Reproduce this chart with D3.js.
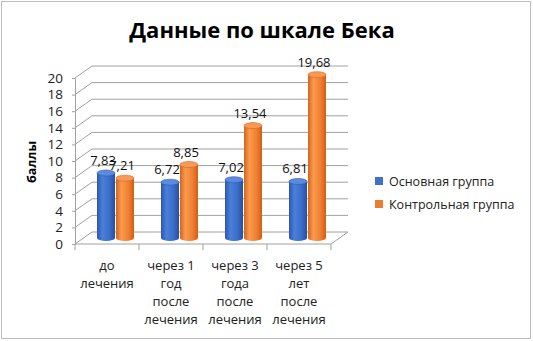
<!DOCTYPE html>
<html>
<head>
<meta charset="utf-8">
<script src="https://cdn.jsdelivr.net/npm/d3@7"></script>
<style>
  body { margin: 0; background: #fff; }
  svg { display: block; font-family: 'Open Sans', sans-serif; }
</style>
</head>
<body>
<svg id="chart" width="533" height="341"></svg>
<script>
// data
const categories = ['до\nлечения', 'через 1\nгод\nпосле\nлечения', 'через 3\nгода\nпосле\nлечения', 'через 5\nлет\nпосле\nлечения'];
const seriesNames = ['Основная группа', 'Контрольная группа'];
const mainGroup = [7.83, 6.72, 7.02, 6.81];
const controlGroup = [7.21, 8.85, 13.54, 19.68];
const yTicks = [0, 2, 4, 6, 8, 10, 12, 14, 16, 18, 20];

const svg = d3.select('#chart');

// outer frame
svg.append('rect')
  .attr('x', 1.5).attr('y', 1.5)
  .attr('width', 529).attr('height', 337)
  .attr('fill', '#fff').attr('stroke', '#bdbdbd');

svg.append('text')
  .attr('x', 262).attr('y', 38)
  .attr('text-anchor', 'middle')
  .attr('font-size', 22).attr('font-weight', 'bold')
  .attr('fill', '#000')
  .text('Данные по шкале Бека');

// 3d depth offset of the back wall
const depth = { dx: 17, dy: -12 };

const x = d3.scaleBand().domain(categories).range([75, 331]);
const y = d3.scaleLinear().domain([0, 20]).range([244, 78]);

const gridColor = '#a0a0a0';
const walls = svg.append('g');

// back wall gridlines and left wall diagonals
yTicks.forEach(t => {
  walls.append('line')
    .attr('x1', 75 + depth.dx).attr('x2', 331 + depth.dx)
    .attr('y1', y(t) + depth.dy).attr('y2', y(t) + depth.dy)
    .attr('stroke', gridColor);
  walls.append('line')
    .attr('x1', 75).attr('y1', y(t))
    .attr('x2', 75 + depth.dx).attr('y2', y(t) + depth.dy)
    .attr('stroke', gridColor);
});

// floor front and right edge
walls.append('line')
  .attr('x1', 75).attr('x2', 331).attr('y1', y(0)).attr('y2', y(0))
  .attr('stroke', gridColor);
walls.append('line')
  .attr('x1', 331).attr('y1', y(0))
  .attr('x2', 331 + depth.dx).attr('y2', y(0) + depth.dy)
  .attr('stroke', gridColor);

// category ticks under the floor
x.domain().concat([null]).forEach(c => {
  const px = c === null ? x.range()[1] : x(c);
  walls.append('line')
    .attr('x1', px).attr('x2', px)
    .attr('y1', y(0)).attr('y2', y(0) + 6)
    .attr('stroke', gridColor);
});

// y axis
const yAxis = d3.axisLeft(y).tickValues(yTicks).tickSize(3).tickSizeOuter(0).tickPadding(9);
const yg = svg.append('g').attr('transform', 'translate(75,0)').call(yAxis);
yg.select('.domain').attr('stroke', gridColor);
yg.selectAll('.tick line').attr('stroke', gridColor);
yg.selectAll('.tick text')
  .attr('font-size', 13.5).attr('fill', '#222')
  .attr('font-family', "'Open Sans', sans-serif");

svg.append('text')
  .attr('transform', 'translate(36,162) rotate(-90)')
  .attr('text-anchor', 'middle')
  .attr('font-size', 12.5).attr('font-weight', 'bold')
  .text('баллы');

// category labels
categories.forEach(c => {
  const lines = c.split('\n');
  const t = svg.append('text')
    .attr('text-anchor', 'middle')
    .attr('font-size', 13).attr('fill', '#222');
  lines.forEach((ln, i) => {
    t.append('tspan')
      .attr('x', x(c) + x.bandwidth() / 2)
      .attr('y', 270 + i * 18)
      .text(ln);
  });
});

// gradients for cylinders
const defs = svg.append('defs');
const palettes = [
  { id: 'gBlue', stops: ['#2b58a8', '#4a7fdc', '#3c6cc6', '#25509c'], top: '#5b8be0' },
  { id: 'gOrange', stops: ['#d3651c', '#fb9a4e', '#ef7f30', '#cf5f16'], top: '#f79a55' }
];
palettes.forEach(p => {
  const g = defs.append('linearGradient').attr('id', p.id)
    .attr('x1', '0%').attr('x2', '100%').attr('y1', '0%').attr('y2', '0%');
  [0, 0.3, 0.7, 1].forEach((o, i) => {
    g.append('stop').attr('offset', o).attr('stop-color', p.stops[i]);
  });
});

const series = [mainGroup, controlGroup];
const barW = 18;
const ry = 3;
const fmt = v => v.toFixed(2).replace('.', ',');
const bars = svg.append('g');
const labels = svg.append('g');

categories.forEach((c, ci) => {
  series.forEach((vals, si) => {
    const v = vals[ci];
    const x0 = x(c) + 13.5 + depth.dx / 2 + si * (barW + 1);
    const yBase = y(0) + depth.dy / 2;
    const yTop = y(v) + depth.dy / 2;
    const rx = barW / 2;
    const p = `M${x0},${yTop} L${x0},${yBase} A${rx},${ry} 0 0 0 ${x0 + barW},${yBase} L${x0 + barW},${yTop} Z`;
    bars.append('path')
      .attr('d', p)
      .attr('fill', `url(#${palettes[si].id})`);
    bars.append('ellipse')
      .attr('cx', x0 + rx).attr('cy', yTop)
      .attr('rx', rx).attr('ry', ry)
      .attr('fill', palettes[si].top)
      .attr('stroke', palettes[si].stops[0]).attr('stroke-width', 0.6);
    labels.append('text')
      .attr('x', x0 + rx - 3)
      .attr('y', yTop - ry - 5)
      .attr('text-anchor', 'middle')
      .attr('font-size', 13).attr('fill', '#111')
      .text(fmt(v));
  });
});

// legend
const legendColors = ['#3f6fcb', '#ee7d31'];
seriesNames.forEach((n, i) => {
  const ly = 181 + i * 23;
  svg.append('rect')
    .attr('x', 375).attr('y', ly - 4)
    .attr('width', 8).attr('height', 8)
    .attr('fill', legendColors[i]);
  svg.append('text')
    .attr('x', 389).attr('y', ly + 4.5)
    .attr('font-size', 12.5).attr('fill', '#222')
    .text(n);
});
</script>
</body>
</html>
